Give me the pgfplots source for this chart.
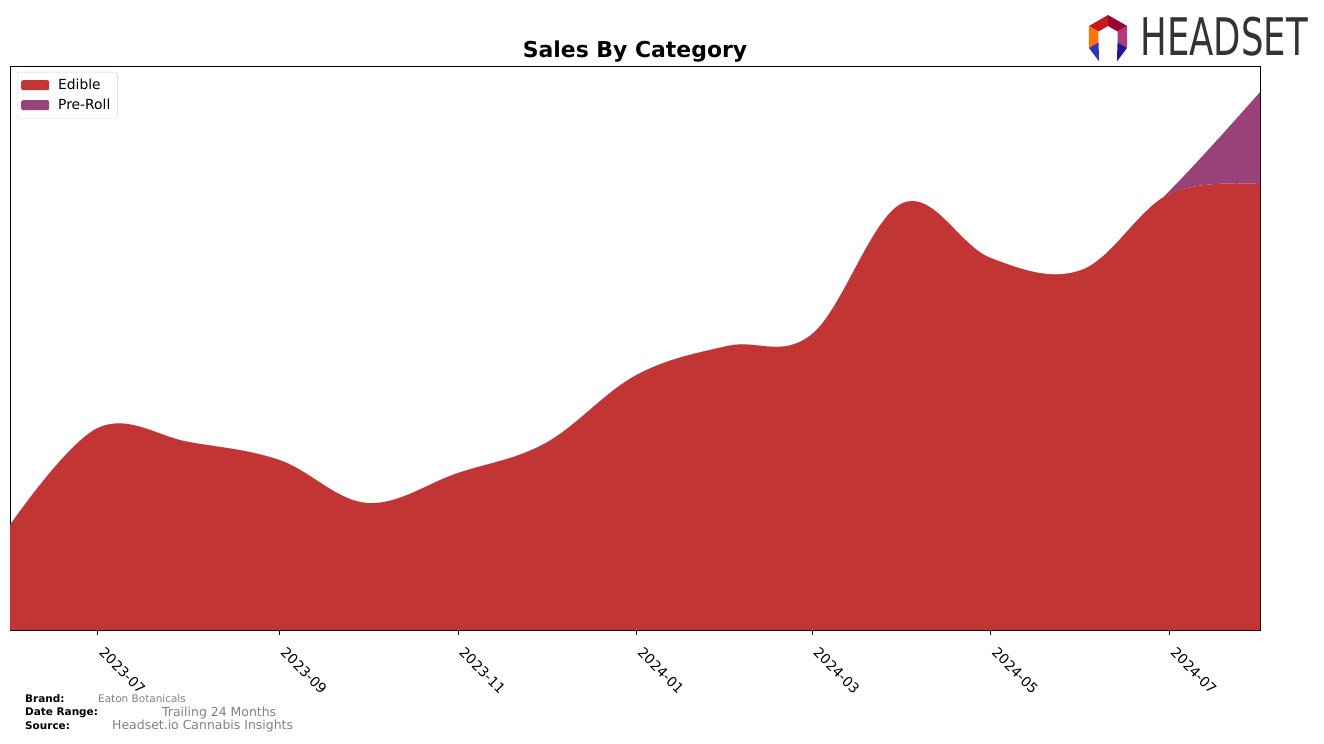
\documentclass[border=0pt]{standalone}
\usepackage{pgfplots}
\pgfplotsset{compat=1.18}
\usepackage{fontspec}
\setmainfont{DejaVu Sans}
\definecolor{edible}{RGB}{193,53,53}
\definecolor{preroll}{RGB}{153,66,122}
\definecolor{footgray}{RGB}{128,128,128}
\begin{document}
\begin{tikzpicture}[x=1bp,y=1bp]
\useasboundingbox (-10,-113) rectangle (1314,630);
\begin{axis}[at={(0,0)}, anchor=south west, scale only axis,
  width=1250bp, height=564bp,
  xmin=-30, xmax=397, ymin=0, ymax=564,
  stack plots=y,
  xtick={0,62,123,184,244,305,366},
  xticklabels={2023-07,2023-09,2023-11,2024-01,2024-03,2024-05,2024-07},
  x tick label style={rotate=-45, anchor=north west, font=\fontsize{13.9}{16}\selectfont, xshift=10bp, yshift=1bp},
  ytick=\empty,
  tick align=outside, xtick pos=bottom, major tick length=5bp,
  tick style={black, line width=0.8bp},
  axis line style={line width=0.8bp},
  legend style={at={(0,1)}, xshift=7bp, yshift=-6bp, anchor=north west,
    draw=black!18, rounded corners=2bp, font=\fontsize{13.9}{16}\selectfont,
    inner xsep=4bp, inner ysep=6bp, row sep=6bp, column sep=6bp,
    nodes={inner xsep=3bp, inner ysep=1bp}},
  legend cell align=left,
  legend image code/.code={\fill[#1] (0bp,-5bp) rectangle (28bp,5bp);},
]
\addplot[fill=edible, draw=none, smooth, tension=0.62] coordinates {
(-30,105) (0,202) (31,188) (62,170) (92,127) (123,157) (153,187) (184,255)
(215,284) (244,296) (275,427) (305,372) (336,360) (366,436) (397,446)
} \closedcycle;
\addlegendentry{Edible}
\addplot[fill=preroll, draw=none, smooth, tension=0.62] coordinates {
(-30,0) (0,0) (31,0) (62,0) (92,0) (123,0) (153,0) (184,0)
(215,0) (244,0) (275,0) (305,0) (336,0) (366,3) (397,92)
} \closedcycle;
\addlegendentry{Pre-Roll}
\end{axis}
\node[font=\fontsize{22}{26}\selectfont\bfseries] at (625,578) {Sales By Category};
% footer
\node[anchor=west, font=\fontsize{10.5}{12}\selectfont\bfseries, inner sep=0] at (15,-69) {Brand:};
\node[anchor=west, font=\fontsize{10.5}{12}\selectfont\bfseries, inner sep=0] at (15,-83) {Date Range:};
\node[anchor=west, font=\fontsize{10.5}{12}\selectfont\bfseries, inner sep=0] at (15,-96) {Source:};
\node[anchor=west, font=\fontsize{10.5}{12}\selectfont, text=footgray, inner sep=0] at (88,-69) {Eaton Botanicals};
\node[anchor=west, font=\fontsize{12.5}{14}\selectfont, text=footgray, inner sep=0] at (152,-83) {Trailing 24 Months};
\node[anchor=west, font=\fontsize{12.5}{14}\selectfont, text=footgray, inner sep=0] at (102,-96) {Headset.io Cannabis Insights};
% logo
\node[font=\fontsize{52}{56}\selectfont, text=black!80, xscale=0.685, inner sep=0] at (1214,593) {HEADSET};
\begin{scope}[shift={(1098,593)}]
\fill[red!75!black!90] (90:22) -- (150:22) -- (150:11) -- (90:11) -- cycle;
\fill[purple!80!black] (30:22) -- (90:22) -- (90:11) -- (30:11) -- cycle;
\fill[magenta!70!black] (-30:22) -- (30:22) -- (30:11) -- (-30:11) -- cycle;
\fill[orange!90!red] (150:22) -- (210:22) -- (210:11) -- (150:11) -- cycle;
\fill[blue!65!black!80] (210:22) -- (250:26) -- (210:11) -- cycle;
\fill[blue!55!black!90] (-30:22) -- (-70:26) -- (-30:11) -- cycle;
\end{scope}
\end{tikzpicture}
\end{document}
